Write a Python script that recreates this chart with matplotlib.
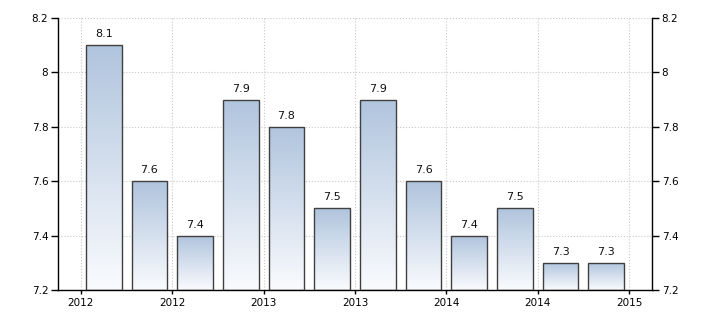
import numpy as np
import matplotlib.pyplot as plt

# Quarterly values
values = [8.1, 7.6, 7.4, 7.9, 7.8, 7.5, 7.9, 7.6, 7.4, 7.5, 7.3, 7.3]
tick_labels = ['2012', '2012', '2013', '2013', '2014', '2014', '2015']
y_ticks = [7.2, 7.4, 7.6, 7.8, 8.0, 8.2]
y_tick_labels = ['7.2', '7.4', '7.6', '7.8', '8', '8.2']

plt.rcParams['font.family'] = ['DejaVu Sans']

fig = plt.figure(figsize=(7.1, 3.25), dpi=100)
ax = fig.add_axes([58 / 710, 1 - 290 / 325, (652 - 58) / 710, (290 - 18) / 325])

ymin, ymax = 7.2, 8.2
x = np.arange(len(values))
width = 0.78

# vertical gradient: light steel blue at top, nearly white at bottom
grad = np.linspace(0, 1, 256).reshape(-1, 1)
top = np.array([0.69, 0.77, 0.87])
bottom = np.array([0.98, 0.985, 0.995])
img = bottom + (top - bottom) * grad[..., None]

bars = ax.bar(x, [v - ymin for v in values], width=width, bottom=ymin,
              facecolor='none', edgecolor='#404040', linewidth=1.0, zorder=3)
for b, v in zip(bars, values):
    b.set_joinstyle('miter')
    x0 = b.get_x()
    im = ax.imshow(img, extent=[x0, x0 + width, ymin, v], origin='lower',
                   aspect='auto', zorder=2, interpolation='bilinear')
    im.set_clip_path(b)
    ax.text(b.get_x() + width / 2, v + 0.022, f'{v:.1f}', ha='center', va='bottom',
            fontsize=8, color='#111111', zorder=4)

ax.set_xlim(-1, 12)
ax.set_ylim(ymin, ymax)

ax.set_xticks(np.arange(-0.5, 12, 2))
ax.set_xticklabels(tick_labels, fontsize=7.5)
ax.set_yticks(y_ticks)
ax.set_yticklabels(y_tick_labels, fontsize=7.5)

ax.grid(True, linestyle=':', color='#c8c8c8', linewidth=0.8, zorder=0)
ax.set_axisbelow(True)

ax.spines['top'].set_visible(False)
for s in ['left', 'bottom', 'right']:
    ax.spines[s].set_color('black')
    ax.spines[s].set_linewidth(1.0)

ax.tick_params(axis='y', direction='out', length=5, width=1, pad=2,
               left=True, right=True, labelleft=True, labelright=True)
ax.tick_params(axis='x', direction='out', length=3, width=1, pad=3)

fig.savefig('out.png', dpi=100)
